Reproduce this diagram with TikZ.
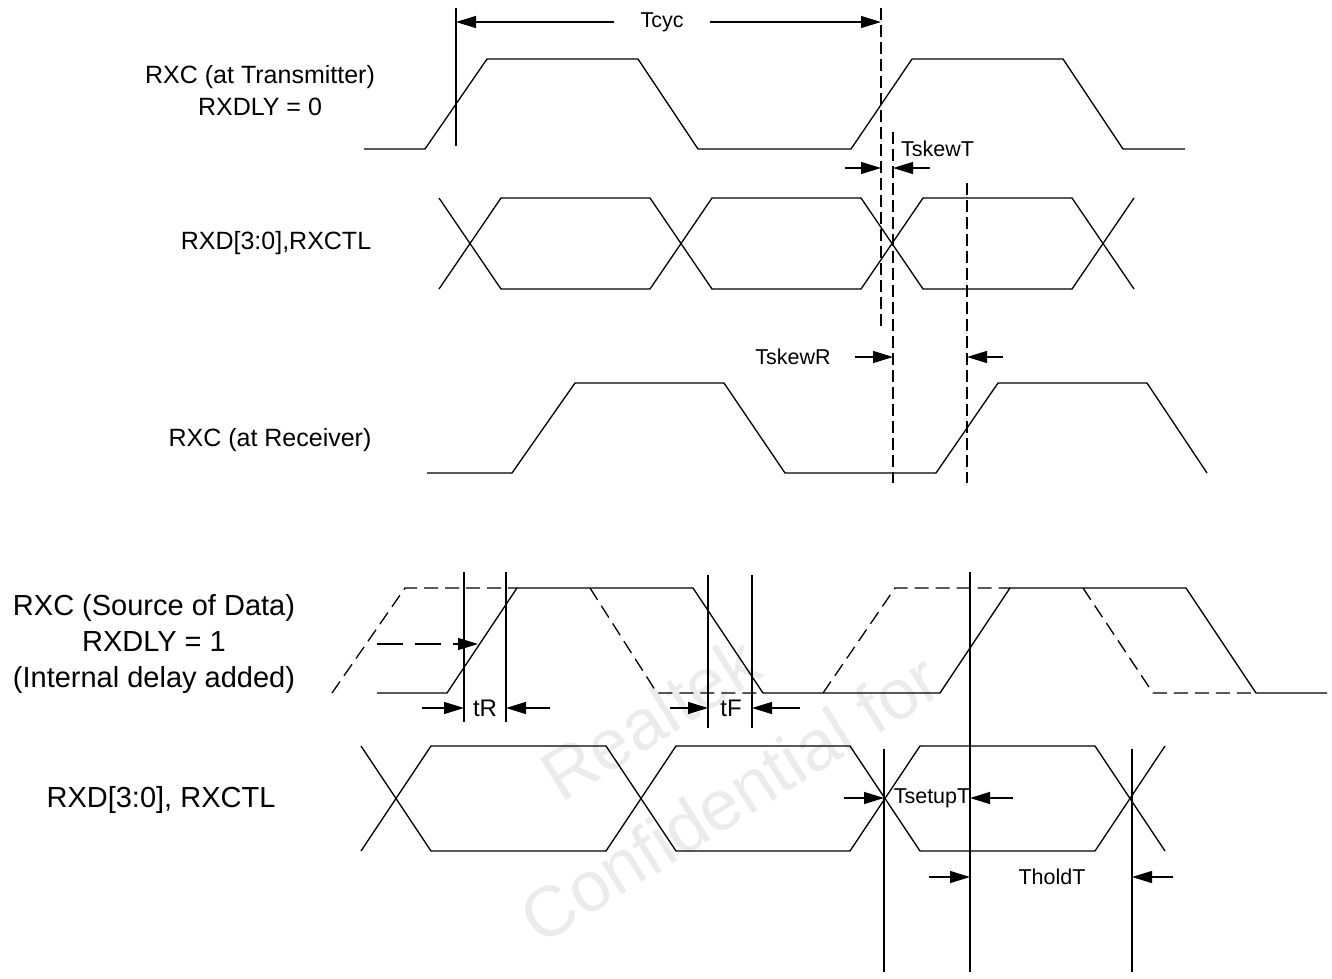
\documentclass[tikz,border=0pt]{standalone}
\usepackage{fontspec}
\setmainfont{Liberation Sans}
\usepackage{tikz}
\usetikzlibrary{arrows.meta}
\usetikzlibrary{calc}

\begin{document}
\begin{tikzpicture}[x=1pt,y=-1pt,
    sig/.style={line width=1.3pt,line join=miter},
    ghost/.style={sig,dash pattern=on 14pt off 7pt},
    guide/.style={line width=1.3pt},
    dguide/.style={line width=1.3pt,dash pattern=on 12pt off 5pt},
    dim/.style={line width=1.3pt,-{Triangle[length=20pt,width=12pt]}},
    lbl/.style={inner sep=0pt,align=center,font=\fontsize{25}{32}\selectfont},
    biglbl/.style={inner sep=0pt,align=center,font=\fontsize{29}{36}\selectfont},
    tlbl/.style={inner sep=0pt,font=\fontsize{21.5}{26}\selectfont},
    wmark/.style={inner sep=0pt,text=black!8,font=\fontsize{71}{80}\selectfont}]

  \useasboundingbox (0,0) rectangle (1332,978);

  % watermark
  \node[wmark,rotate=32] (wm_a) at (650,718) {Realtek};
  \node[wmark,rotate=32] (wm_b) at (730,798) {Confidential for};

  % signal names
  \node[lbl] (txclk_lbl) at (260,91) {RXC (at Transmitter)\\RXDLY = 0};
  \node[lbl] (txdat_lbl) at (276,243) {RXD[3:0],RXCTL};
  \node[lbl] (rxclk_lbl) at (270,440) {RXC (at Receiver)};
  \node[biglbl] (srcclk_lbl) at (154,644) {RXC (Source of Data)\\RXDLY = 1\\(Internal delay added)};
  \node[biglbl] (srcdat_lbl) at (161,800) {RXD[3:0], RXCTL};

  % RXC at transmitter
  \draw[sig] (364,149) -- (425,149) -- (487,59) -- (638,59) -- (698,149) -- (851,149)
    -- (912,59) -- (1063,59) -- (1123,149) -- (1185,149);

  % RXD at transmitter
  \draw[sig] (439,198) -- (501,289) -- (650,289) -- (712,198) -- (861,198) -- (923,289)
    -- (1072,289) -- (1134,198);
  \draw[sig] (439,289) -- (501,198) -- (650,198) -- (712,289) -- (861,289) -- (923,198)
    -- (1072,198) -- (1134,289);

  % RXC at receiver
  \draw[sig] (427,473) -- (512,473) -- (575,383) -- (724,383) -- (785,473) -- (936,473)
    -- (998,383) -- (1147,383) -- (1207,473);

  % RXC source of data, delayed and not delayed
  \draw[sig] (377,693) -- (447,693) -- (517,588) -- (693,588) -- (763,693) -- (940,693)
    -- (1010,588) -- (1186,588) -- (1256,693) -- (1327,693);
  \draw[ghost] (332,693) -- (405,588) -- (517,588);
  \draw[ghost] (590,588) -- (657,693) -- (763,693);
  \draw[ghost] (823,693) -- (895,588) -- (1010,588);
  \draw[ghost] (1083,588) -- (1153,693) -- (1256,693);

  % RXD source of data
  \draw[sig] (361,746) -- (431,851) -- (606,851) -- (676,746) -- (850,746) -- (920,851)
    -- (1095,851) -- (1165,746);
  \draw[sig] (361,851) -- (431,746) -- (606,746) -- (676,851) -- (850,851) -- (920,746)
    -- (1095,746) -- (1165,851);

  % guide lines
  \coordinate (g_tx) at (456,8);
  \coordinate (g_d1) at (881,8);
  \coordinate (g_d2) at (893,132);
  \coordinate (g_d3) at (967,183);
  \coordinate (g_r1) at (464,572);
  \coordinate (g_r2) at (506,572);
  \coordinate (g_f1) at (708,575);
  \coordinate (g_f2) at (752,575);
  \coordinate (g_s)  at (970,572);
  \coordinate (g_h1) at (884,749);
  \coordinate (g_h2) at (1132,749);

  \draw[guide] (g_tx) -- ++(0,138);
  \draw[dguide] (g_d1) -- ++(0,320);
  \draw[dguide] (g_d2) -- ++(0,351);
  \draw[dguide] (g_d3) -- ++(0,300);
  \draw[guide] (g_r1) -- ++(0,150);
  \draw[guide] (g_r2) -- ++(0,150);
  \draw[guide] (g_f1) -- ++(0,153);
  \draw[guide] (g_f2) -- ++(0,153);
  \draw[guide] (g_s) -- ++(0,400);
  \draw[guide] (g_h1) -- ++(0,223);
  \draw[guide] (g_h2) -- ++(0,223);

  % timing labels
  \node[tlbl] (tcyc) at (662,22) {Tcyc};
  \node[tlbl,anchor=west] (tskewt) at (901,149) {TskewT};
  \node[tlbl] (tskewr) at (793,357) {TskewR};
  \node[tlbl,font=\fontsize{24}{28}\selectfont] (tr) at (485,708) {tR};
  \node[tlbl,font=\fontsize{24}{28}\selectfont] (tf) at (731,708) {tF};
  \node[tlbl] (tsetup) at (932,798) {TsetupT};
  \node[tlbl] (thold) at (1052,877) {TholdT};
  \coordinate (row_skt) at (0,168);
  \coordinate (d_src) at (377,644);
  \coordinate (d_end) at (478,644);

  \draw[dim] ($(tcyc.west)+(-26,0)$) -- (g_tx |- tcyc);
  \draw[dim] ($(tcyc.east)+(26,0)$) -- (g_d1 |- tcyc);
  \draw[dim] ($(g_d1 |- row_skt)+(-36,0)$) -- (g_d1 |- row_skt);
  \draw[dim] ($(g_d2 |- row_skt)+(37,0)$) -- (g_d2 |- row_skt);
  \draw[dim] ($(g_d2 |- tskewr)+(-38,0)$) -- (g_d2 |- tskewr);
  \draw[dim] ($(g_d3 |- tskewr)+(36,0)$) -- (g_d3 |- tskewr);
  \draw[dim,dash pattern=on 26pt off 12pt] (d_src) -- (d_end);
  \draw[dim] ($(g_r1 |- tr)+(-42,0)$) -- (g_r1 |- tr);
  \draw[dim] ($(g_r2 |- tr)+(44,0)$) -- (g_r2 |- tr);
  \draw[dim] ($(g_f1 |- tf)+(-38,0)$) -- (g_f1 |- tf);
  \draw[dim] ($(g_f2 |- tf)+(48,0)$) -- (g_f2 |- tf);
  \draw[dim] ($(g_h1 |- tsetup)+(-40,0)$) -- (g_h1 |- tsetup);
  \draw[dim] ($(g_s |- tsetup)+(43,0)$) -- (g_s |- tsetup);
  \draw[dim] ($(g_s |- thold)+(-41,0)$) -- (g_s |- thold);
  \draw[dim] ($(g_h2 |- thold)+(41,0)$) -- (g_h2 |- thold);

\end{tikzpicture}
\end{document}
